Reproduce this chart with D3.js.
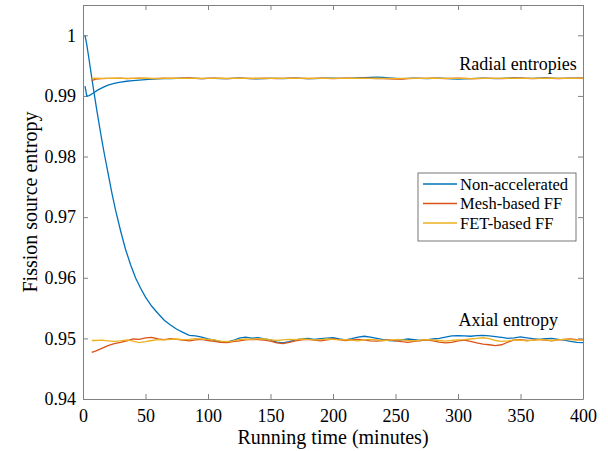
<!DOCTYPE html>
<html>
<head>
<meta charset="utf-8">
<script src="https://cdn.jsdelivr.net/npm/d3@7"></script>
<style>
  body { margin: 0; background: #fff; }
  .axis path, .axis line { stroke: #808080; }
</style>
</head>
<body>
<div id="chart"></div>
<script>
// Times (minutes)
var tFF = [7,10,15,20,25,30,35,40,45,50,55,60,65,70,75,80,85,90,95,100,
  105,110,115,120,125,130,135,140,145,150,155,160,165,170,175,180,185,190,195,200,
  205,210,215,220,225,230,235,240,245,250,255,260,265,270,275,280,285,290,295,300,
  305,310,315,320,325,330,335,340,345,350,355,360,365,370,375,380,385,390,395,400];

var tNonRadial = [1.6,3,5,8,12,16,20,25,30,35,40,45,50,55,60,
  65,70,75,80,85,90,95,100,105,110,115,120,125,130,135,140,145,150,155,160,
  165,170,175,180,185,190,195,200,205,210,215,220,225,230,235,240,245,250,255,260,
  265,270,275,280,285,290,295,300,305,310,315,320,325,330,335,340,345,350,355,360,
  365,370,375,380,385,390,395,400];

var tNonAxial = [1.6,3,5,7,9,11,13,15,17,20,23,26,30,34,38,42,46,50,55,60,65,70,75,80,85,90,95,
  100,105,110,115,120,125,130,135,140,145,150,155,160,165,170,175,180,185,190,195,
  200,205,210,215,220,225,230,235,240,245,250,255,260,265,270,275,280,285,290,295,
  300,305,310,315,320,325,330,335,340,345,350,355,360,365,370,375,380,385,390,395,400];

// Radial entropies
var meshRadial = [0.99250,0.99278,0.99285,0.99290,0.99288,0.99292,0.99287,0.99290,0.99294,0.99289,
  0.99286,0.99291,0.99295,0.99290,0.99288,0.99292,0.99297,0.99291,0.99287,0.99290,
  0.99293,0.99289,0.99286,0.99291,0.99294,0.99290,0.99286,0.99289,0.99293,0.99291,
  0.99287,0.99290,0.99294,0.99292,0.99288,0.99286,0.99290,0.99293,0.99289,0.99286,
  0.99290,0.99294,0.99291,0.99288,0.99292,0.99289,0.99286,0.99284,0.99280,0.99276,
  0.99279,0.99286,0.99290,0.99288,0.99291,0.99293,0.99289,0.99286,0.99289,0.99292,
  0.99290,0.99287,0.99285,0.99288,0.99291,0.99289,0.99286,0.99288,0.99292,0.99294,
  0.99290,0.99287,0.99289,0.99292,0.99290,0.99287,0.99290,0.99293,0.99291,0.99292];

var fetRadial = [0.99290,0.99292,0.99289,0.99291,0.99293,0.99290,0.99288,0.99291,0.99289,0.99292,
  0.99290,0.99287,0.99290,0.99293,0.99291,0.99288,0.99290,0.99292,0.99289,0.99291,
  0.99289,0.99292,0.99290,0.99288,0.99291,0.99289,0.99292,0.99290,0.99287,0.99290,
  0.99292,0.99289,0.99291,0.99288,0.99290,0.99292,0.99289,0.99291,0.99290,0.99288,
  0.99291,0.99289,0.99292,0.99290,0.99288,0.99290,0.99292,0.99290,0.99288,0.99287,
  0.99289,0.99291,0.99290,0.99288,0.99290,0.99292,0.99290,0.99288,0.99290,0.99291,
  0.99289,0.99287,0.99289,0.99291,0.99290,0.99288,0.99290,0.99292,0.99290,0.99289,
  0.99291,0.99289,0.99288,0.99290,0.99292,0.99290,0.99289,0.99291,0.99290,0.99292];

var nonRadial = [0.99160,0.99000,0.99005,0.99045,0.99100,0.99140,0.99178,0.99208,0.99228,0.99242,
  0.99254,0.99262,0.99270,0.99276,0.99281,
  0.99284,0.99287,0.99289,0.99292,0.99294,0.99289,0.99284,0.99288,0.99291,0.99287,
  0.99285,0.99290,0.99293,0.99289,0.99284,0.99282,0.99287,0.99291,0.99290,0.99286,
  0.99289,0.99293,0.99291,0.99287,0.99284,0.99288,0.99292,0.99295,0.99291,0.99288,
  0.99292,0.99298,0.99303,0.99306,0.99309,0.99304,0.99296,0.99290,0.99286,0.99289,
  0.99292,0.99288,0.99285,0.99288,0.99292,0.99289,0.99283,0.99278,0.99280,0.99286,
  0.99290,0.99292,0.99289,0.99286,0.99289,0.99293,0.99296,0.99292,0.99288,0.99291,
  0.99294,0.99298,0.99295,0.99291,0.99288,0.99291,0.99294,0.99292];

// Axial entropy
var meshAxial = [0.94770,0.94790,0.94835,0.94880,0.94915,0.94935,0.94960,0.94990,0.94985,0.95010,
  0.95018,0.94990,0.94980,0.94995,0.94985,0.94970,0.94960,0.94975,0.94985,0.94965,
  0.94950,0.94935,0.94930,0.94945,0.94960,0.94975,0.94985,0.94980,0.94970,0.94955,
  0.94925,0.94915,0.94935,0.94960,0.94975,0.94985,0.94970,0.94960,0.94975,0.94990,
  0.94980,0.94965,0.94975,0.94985,0.94970,0.94960,0.94955,0.94965,0.94975,0.94960,
  0.94945,0.94935,0.94950,0.94965,0.94975,0.94960,0.94940,0.94925,0.94935,0.94960,
  0.94970,0.94950,0.94925,0.94905,0.94895,0.94880,0.94895,0.94940,0.94975,0.94980,
  0.94965,0.94970,0.94985,0.94970,0.94960,0.94975,0.94985,0.94990,0.94980,0.94975];

var fetAxial = [0.94965,0.94965,0.94970,0.94960,0.94950,0.94960,0.94975,0.94955,0.94930,0.94945,
  0.94965,0.94980,0.94975,0.94985,0.94990,0.94980,0.94985,0.94995,0.94990,0.94985,
  0.94975,0.94955,0.94945,0.94960,0.94980,0.94990,0.94985,0.94995,0.94990,0.94975,
  0.94965,0.94975,0.94985,0.94980,0.94990,0.94985,0.94975,0.94980,0.94990,0.94985,
  0.94975,0.94980,0.94970,0.94960,0.94975,0.94985,0.94975,0.94965,0.94970,0.94980,
  0.94975,0.94965,0.94960,0.94970,0.94980,0.94975,0.94965,0.94955,0.94965,0.94975,
  0.94980,0.94990,0.95000,0.95010,0.94995,0.94965,0.94950,0.94960,0.94975,0.94970,
  0.94960,0.94970,0.94980,0.94975,0.94965,0.94975,0.94985,0.94980,0.94970,0.94975];

var nonAxial = [1.0000,0.9985,0.9958,0.9930,0.9903,0.9877,0.9852,0.9828,0.9805,0.9773,
  0.9741,0.9712,0.9678,0.9647,0.9622,0.9600,0.9583,0.9568,0.9553,0.9541,
  0.9530,0.9522,0.9515,0.9510,0.9505,0.9504,0.9502,
  0.94990,0.94970,0.94945,0.94940,0.94965,0.95005,0.95020,0.95005,0.95010,0.94990,
  0.94975,0.94940,0.94925,0.94945,0.94975,0.94990,0.95000,0.94985,0.94995,0.95005,
  0.95010,0.94990,0.94975,0.94995,0.95020,0.95035,0.95020,0.95000,0.94980,0.94965,
  0.94960,0.94975,0.94990,0.94980,0.94965,0.94975,0.94990,0.95000,0.95020,0.95040,
  0.95045,0.95040,0.95035,0.95045,0.95050,0.95040,0.95030,0.95015,0.95000,0.95010,
  0.95025,0.95010,0.94995,0.94985,0.94995,0.95000,0.94985,0.94970,0.94950,0.94935,
  0.94930];

var xTicks = [0,50,100,150,200,250,300,350,400];
var yTicks = [0.94,0.95,0.96,0.97,0.98,0.99,1];
var legendNames = ["Non-accelerated", "Mesh-based FF", "FET-based FF"];
var colors = ["#0072BD", "#D95319", "#EDB120"];

var serif = "Liberation Serif";

var svgWidth = 608, svgHeight = 451;
var margin = { top: 5, right: 25, bottom: 52, left: 83 };
var width = svgWidth - margin.left - margin.right;
var height = svgHeight - margin.top - margin.bottom;

var svg = d3.select("#chart").append("svg")
  .attr("width", svgWidth)
  .attr("height", svgHeight);

var chart = svg.append("g")
  .attr("transform", `translate(${margin.left}, ${margin.top})`);

var x = d3.scaleLinear().domain([0, 400]).range([0, width]);
var y = d3.scaleLinear().domain([0.94, 1.005]).range([height, 0]);

var fmtY = d => d === 1 ? "1" : d3.format(".2f")(d);

// axes, ticks pointing inward, box on
chart.append("g").attr("class", "axis")
  .attr("transform", `translate(0, ${height})`)
  .call(d3.axisBottom(x).tickValues(xTicks).tickSizeInner(-5).tickSizeOuter(0).tickPadding(10));
chart.append("g").attr("class", "axis")
  .call(d3.axisLeft(y).tickValues(yTicks).tickFormat(fmtY).tickSizeInner(-5).tickSizeOuter(0).tickPadding(7));
chart.append("g").attr("class", "axis")
  .call(d3.axisTop(x).tickValues(xTicks).tickSizeInner(-5).tickSizeOuter(0).tickFormat(""));
chart.append("g").attr("class", "axis")
  .attr("transform", `translate(${width}, 0)`)
  .call(d3.axisRight(y).tickValues(yTicks).tickSizeInner(-5).tickSizeOuter(0).tickFormat(""));

chart.selectAll(".axis text")
  .style("font-family", serif)
  .style("font-size", "18px")
  .attr("fill", "#000");

// lines
var series = [
  { t: tNonRadial, v: nonRadial, c: 0 },
  { t: tNonAxial, v: nonAxial, c: 0 },
  { t: tFF, v: meshRadial, c: 1 },
  { t: tFF, v: meshAxial, c: 1 },
  { t: tFF, v: fetRadial, c: 2 },
  { t: tFF, v: fetAxial, c: 2 }
];

var line = d3.line()
  .x(d => x(d[0]))
  .y(d => y(d[1]));

series.forEach(function(s) {
  chart.append("path")
    .datum(s.t.map((t, i) => [t, s.v[i]]))
    .attr("fill", "none")
    .attr("stroke", colors[s.c])
    .attr("stroke-width", 1.3)
    .attr("d", line);
});

// annotations
chart.append("text")
  .attr("x", x(395)).attr("y", y(0.99287) - 9)
  .attr("text-anchor", "end")
  .style("font-family", serif)
  .style("font-size", "18px")
  .text("Radial entropies");

chart.append("text")
  .attr("x", x(380)).attr("y", y(0.9497) - 14)
  .attr("text-anchor", "end")
  .style("font-family", serif)
  .style("font-size", "18px")
  .text("Axial entropy");

// legend
var legend = chart.append("g")
  .attr("transform", `translate(${418 - margin.left}, ${173 - margin.top})`);

legend.append("rect")
  .attr("width", 158).attr("height", 68)
  .attr("fill", "#fff")
  .attr("stroke", "#555")
  .attr("stroke-width", 0.8);

legendNames.forEach(function(name, i) {
  var ly = 11 + i * 19.5;
  legend.append("line")
    .attr("x1", 5).attr("x2", 39)
    .attr("y1", ly).attr("y2", ly)
    .attr("stroke", colors[i]).attr("stroke-width", 1.3);
  legend.append("text")
    .attr("x", 42).attr("y", ly + 5.5)
    .style("font-family", serif)
    .style("font-size", "16.5px")
    .text(name);
});

// axis labels
svg.append("text")
  .attr("x", margin.left + width / 2)
  .attr("y", 444)
  .attr("text-anchor", "middle")
  .style("font-family", serif)
  .style("font-size", "20px")
  .text("Running time (minutes)");

svg.append("text")
  .attr("transform", "translate(37, 202) rotate(-90)")
  .attr("text-anchor", "middle")
  .style("font-family", serif)
  .style("font-size", "20px")
  .text("Fission source entropy");
</script>
</body>
</html>
